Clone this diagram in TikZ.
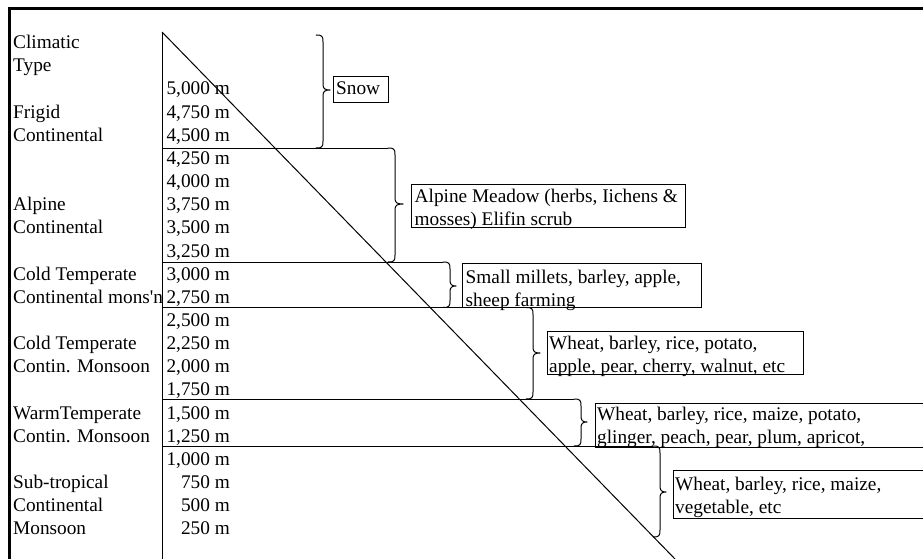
\documentclass[tikz,border=0pt]{standalone}
\usepackage{fontspec}
\newfontfamily\tnr{Liberation Serif}

% right curly brace: #1 top, #2 bottom, #3 x of the stem, #4 y of the tip, #5 tip length
\newcommand\bandbrace[5]{%
  \draw[curly] ({#3-7},#1) .. controls ({#3-1},#1) and (#3,{#1+1}) .. (#3,{#1+7})
    -- (#3,{#4-6}) .. controls (#3,{#4-1.5}) and ({#3+1.5},#4) .. ({#3+#5},#4)
    .. controls ({#3+1.5},#4) and (#3,{#4+1.5}) .. (#3,{#4+6})
    -- (#3,{#2-7}) .. controls (#3,{#2-1}) and ({#3-1},#2) .. ({#3-7},#2);}

\begin{document}
\begin{tikzpicture}[x=1pt,y=-1pt,
  txt/.style={font=\tnr\fontsize{19.3}{23.15}\selectfont, inner sep=0pt, anchor=base west},
  num/.style={txt, anchor=base east},
  rule/.style={line width=1pt},
  box/.style={draw, line width=1pt, inner sep=0pt, anchor=north west},
  curly/.style={line width=1pt, line join=round, line cap=round}]
\useasboundingbox (0,0) rectangle (923,559);
\clip (0,0) rectangle (923,559);

% outer frame (left and top)
\draw[line width=3.3pt] (9.5,559) -- (9.5,8.5) -- (923,8.5);

% altitude axis and slope
\coordinate (top) at (162,32);
\coordinate (foot) at (162,559);
\coordinate (slopeend) at (675,559);
\draw[rule] (top) -- (foot);
\draw[rule] (top) -- (slopeend);

% band boundaries
\coordinate (l1) at (162,148);   \coordinate (r1) at (388,148);
\coordinate (l2) at (162,262);   \coordinate (r2) at (443,262);
\coordinate (l3) at (162,307.5); \coordinate (r3) at (526,307.5);
\coordinate (l4) at (162,399);   \coordinate (r4) at (574,399);
\coordinate (l5) at (162,446);   \coordinate (r5) at (653,446);
\foreach \i in {1,...,5} \draw[rule] (l\i) -- (r\i);

% braces
\bandbrace{35}{148}{323}{90}{7}
\bandbrace{148}{262}{395}{204}{8}
\bandbrace{262}{307.5}{450}{286}{6}
\bandbrace{307.5}{399}{533}{353}{7}
\bandbrace{399}{446}{581}{422}{6}
\bandbrace{446}{537}{660}{492}{6}

% vegetation boxes
\node[box, minimum width=55, minimum height=26] (snow) at (333,76) {};
\node[txt] (snowt) at (336,95) {Snow};

\node[box, minimum width=274, minimum height=43] (alp) at (411,184) {};
\node[txt] (alpa) at (414.5,202) {Alpine Meadow (herbs, Iichens \&};
\node[txt] (alpb) at (414.5,225) {mosses) Elifin scrub};

\node[box, minimum width=239, minimum height=44] (mil) at (462,263) {};
\node[txt] (mila) at (465.5,283) {Small millets, barley, apple,};
\node[txt] (milb) at (465.5,306) {sheep farming};

\node[box, minimum width=256, minimum height=43] (wha) at (547,331) {};
\node[txt] (whaa) at (549,349.5) {Wheat, barley, rice, potato,};
\node[txt] (whab) at (549,372.5) {apple, pear, cherry, walnut, etc};

\node[box, minimum width=340, minimum height=44] (whb) at (595,403) {};
\node[txt] (whba) at (597,420) {Wheat, barley, rice, maize, potato,};
\node[txt] (whbb) at (597,443.5) {glinger, peach, pear, plum, apricot,};

\node[box, minimum width=260, minimum height=48] (whc) at (673,470) {};
\node[txt] (whca) at (675,490) {Wheat, barley, rice, maize,};
\node[txt] (whcb) at (675,513) {vegetable, etc};

% climatic types
\node[txt] (c1) at (13,48.7)   {Climatic};
\node[txt] (c2) at (13,71.85)  {Type};
\node[txt] (c3) at (13,118.15) {Frigid};
\node[txt] (c4) at (13,141.3)  {Continental};
\node[txt] (c5) at (13,210.75) {Alpine};
\node[txt] (c6) at (13,233.9)  {Continental};
\node[txt] (c7) at (13,280.2)  {Cold Temperate};
\node[txt] (c8) at (13,303.35) {Continental mons'n};
\node[txt] (c9) at (13,349.65) {Cold Temperate};
\node[txt] (c10) at (13,372.8) {Contin. Monsoon};
\node[txt] (c11) at (13,419.1) {WarmTemperate};
\node[txt] (c12) at (13,442.25) {Contin. Monsoon};
\node[txt] (c13) at (13,488.55) {Sub-tropical};
\node[txt] (c14) at (13,511.7) {Continental};
\node[txt] (c15) at (13,534.85) {Monsoon};

% altitudes, one row every 250 m
\foreach \h/\k in {{5,000}/0,{4,750}/1,{4,500}/2,{4,250}/3,{4,000}/4,{3,750}/5,{3,500}/6,
  {3,250}/7,{3,000}/8,{2,750}/9,{2,500}/10,{2,250}/11,{2,000}/12,{1,750}/13,{1,500}/14,
  {1,250}/15,{1,000}/16,750/17,500/18,250/19}
  \node[num] (alt\k) at (230,{95+23.15*\k}) {\h\ m};
\end{tikzpicture}
\end{document}
